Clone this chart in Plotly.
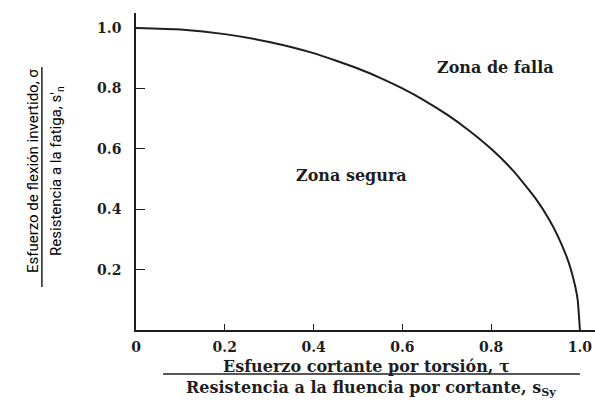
import plotly.graph_objects as go

# Curve (normalized stresses)
tau = [0.0, 0.1, 0.2, 0.3, 0.4, 0.5, 0.55, 0.6, 0.65, 0.7, 0.75, 0.8, 0.85, 0.9,
       0.93, 0.95, 0.97, 0.98, 0.99, 0.995, 1.0]
sigma = [1.0, 0.995, 0.98, 0.954, 0.917, 0.866, 0.835, 0.80, 0.76, 0.714, 0.661, 0.60,
         0.527, 0.436, 0.368, 0.312, 0.243, 0.199, 0.141, 0.10, 0.0]

x_ticks = [0, 0.2, 0.4, 0.6, 0.8, 1.0]
x_tick_labels = ["0", "0.2", "0.4", "0.6", "0.8", "1.0"]
y_ticks = [0.2, 0.4, 0.6, 0.8, 1.0]
y_tick_labels = ["0.2", "0.4", "0.6", "0.8", "1.0"]

zone_labels = ["Zona de falla", "Zona segura"]
zone_x = [0.809, 0.486]
zone_y = [0.868, 0.513]

x_title = ["Esfuerzo cortante por torsión, τ", "Resistencia a la fluencia por cortante, s<sub>Sy</sub>"]
y_title = ["Esfuerzo de flexión invertido, σ", "Resistencia a la fatiga, s'<sub>n</sub>"]

ink = "#1e1e1e"
serif = "DejaVu Serif"
narrow = "Liberation Sans Narrow, Arial Narrow, Roboto, sans-serif"

fig = go.Figure()
fig.add_trace(go.Scatter(x=tau, y=sigma, mode="lines",
                         line=dict(color=ink, width=2, shape="spline", smoothing=0.5),
                         hoverinfo="skip", showlegend=False))

fig.update_xaxes(range=[0, 1.034], tickvals=x_ticks,
                 ticktext=["<b>%s</b>" % t for t in x_tick_labels],
                 showgrid=False, zeroline=False, showline=True, linecolor=ink, linewidth=1.6,
                 ticks="inside", ticklen=6, tickwidth=1.4, tickcolor=ink,
                 tickfont=dict(family=serif, size=14, color=ink), ticklabelstandoff=3)
fig.update_yaxes(range=[0, 1.05], tickvals=y_ticks,
                 ticktext=["<b>%s</b>" % t for t in y_tick_labels],
                 showgrid=False, zeroline=False, showline=True, linecolor=ink, linewidth=1.6,
                 ticks="inside", ticklen=9, tickwidth=1.4, tickcolor=ink,
                 tickfont=dict(family=serif, size=14, color=ink), ticklabelstandoff=10)

for lab, x, y in zip(zone_labels, zone_x, zone_y):
    fig.add_annotation(x=x, y=y, xref="x", yref="y", text="<b>%s</b>" % lab,
                       xanchor="center", yanchor="middle",
                       showarrow=False, font=dict(family=serif, size=16, color=ink))

# x-axis title as a fraction
fig.add_annotation(x=0.503, y=-0.1136, xref="paper", yref="paper", text="<b>%s</b>" % x_title[0],
                   xanchor="center", yanchor="middle",
                   showarrow=False, font=dict(family=serif, size=16, color=ink))
fig.add_annotation(x=0.512, y=-0.186, xref="paper", yref="paper", text="<b>%s</b>" % x_title[1],
                   xanchor="center", yanchor="middle",
                   showarrow=False, font=dict(family=serif, size=16, color=ink))
fig.add_shape(type="line", xref="paper", yref="paper", x0=0.059, x1=0.967, y0=-0.139, y1=-0.139,
              line=dict(color=ink, width=1.5))

# y-axis title as a fraction
fig.add_annotation(x=-0.224, y=0.502, xref="paper", yref="paper", text=y_title[0], textangle=-90,
                   xanchor="center", yanchor="middle",
                   showarrow=False, font=dict(family=narrow, size=15, color="#000"))
fig.add_annotation(x=-0.172, y=0.502, xref="paper", yref="paper", text=y_title[1], textangle=-90,
                   xanchor="center", yanchor="middle",
                   showarrow=False, font=dict(family=narrow, size=15, color="#000"))
fig.add_shape(type="line", xref="paper", yref="paper", x0=-0.205, x1=-0.205, y0=0.136, y1=0.830,
              line=dict(color=ink, width=1.5))

fig.update_layout(width=595, height=403, margin=dict(l=136, r=0, t=13, b=73),
                  paper_bgcolor="white", plot_bgcolor="white", showlegend=False)

fig.write_html("out.html", config={"displayModeBar": False},
               post_script="document.body.style.margin='0';document.body.style.overflow='hidden';")
